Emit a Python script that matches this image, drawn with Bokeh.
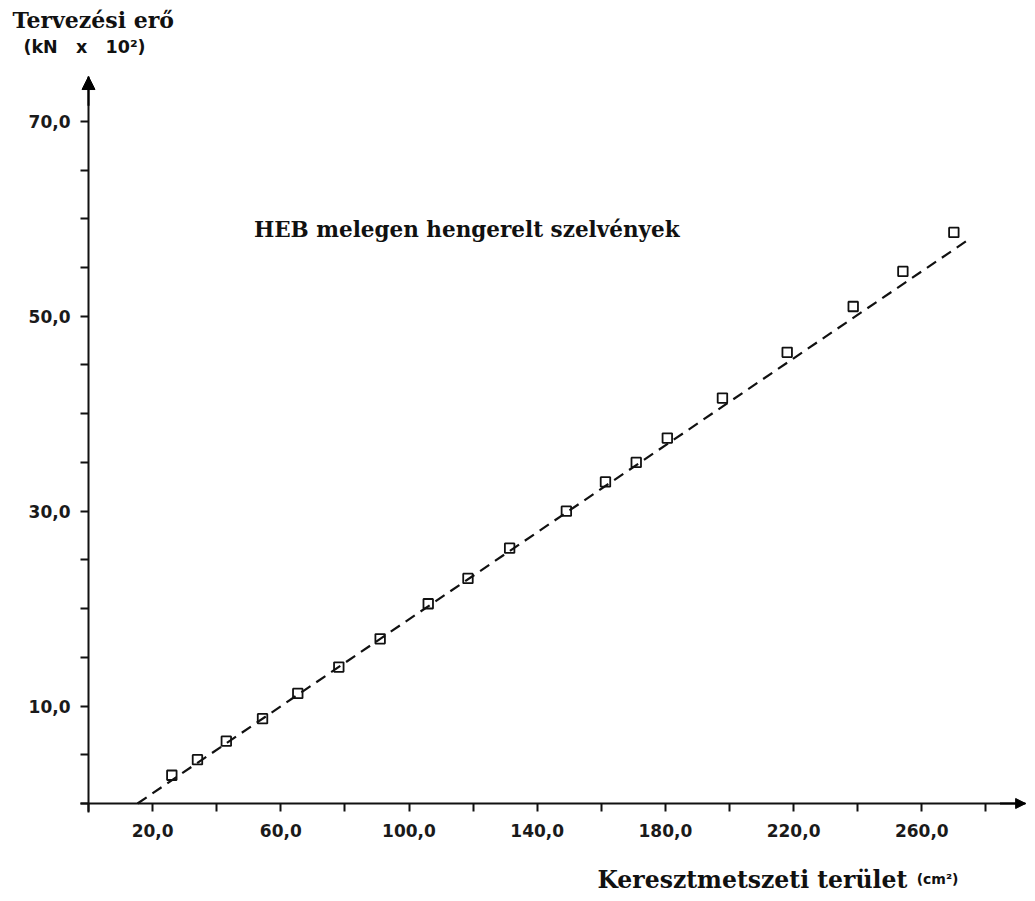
from bokeh.plotting import figure
from bokeh.models import FixedTicker, Label, Arrow, NormalHead, Range1d, LinearAxis
from bokeh.embed import file_html
from bokeh.resources import INLINE

# HEB hot-rolled sections: cross-section area (cm2) and design force (kN x 10^2)
area = [26.0, 34.0, 43.0, 54.3, 65.3, 78.1, 91.0, 106.0, 118.4, 131.4,
        149.1, 161.3, 170.9, 180.6, 197.8, 218.0, 238.6, 254.1, 270.0]
force = [2.9, 4.5, 6.4, 8.7, 11.3, 14.0, 16.9, 20.5, 23.1, 26.2,
         30.0, 33.0, 35.0, 37.5, 41.6, 46.3, 51.0, 54.6, 58.6]

# fitted (dashed) line
fit_x = [15.3, 275.2]
fit_y = [0.0, 58.0]

x_major = [20, 60, 100, 140, 180, 220, 260]
x_minor = [0, 40, 80, 120, 160, 200, 240, 280]
x_labels = ["20,0", "60,0", "100,0", "140,0", "180,0", "220,0", "260,0"]

y_major = [10, 30, 50, 70]
y_minor = [0, 5, 15, 20, 25, 35, 40, 45, 55, 60, 65]
y_labels = ["10,0", "30,0", "50,0", "70,0"]

title_text = "HEB melegen hengerelt szelvények"
y_title = "Tervezési erő"
y_unit = "(kN\u00a0\u00a0 x\u00a0\u00a0 10²)"
x_title = "Keresztmetszeti terület"
x_unit = "(cm²)"

W, H = 1027, 893
X0_PX, Y0_PX = 88, 803          # where the axes cross, in canvas pixels
SX, SY = 3.205, 9.745           # pixels per data unit
X_AXIS_END = 292.4
Y_AXIS_END = 74.6

x_range = Range1d(-X0_PX / SX, (W - X0_PX) / SX)
y_range = Range1d(-(H - Y0_PX) / SY, Y0_PX / SY)

p = figure(width=W, height=H, x_range=x_range, y_range=y_range,
           x_axis_type=None, y_axis_type=None,
           output_backend="svg", toolbar_location=None, min_border=0)
p.outline_line_color = None
p.background_fill_color = "white"
p.border_fill_color = "white"

xaxis = LinearAxis(fixed_location=0, bounds=(-2.5, X_AXIS_END),
                   ticker=FixedTicker(ticks=x_major, minor_ticks=x_minor),
                   major_label_overrides=dict(zip(x_major, x_labels)),
                   major_label_standoff=12)
yaxis = LinearAxis(fixed_location=0, bounds=(-0.9, Y_AXIS_END),
                   ticker=FixedTicker(ticks=y_major, minor_ticks=y_minor),
                   major_label_overrides=dict(zip(y_major, y_labels)),
                   major_label_standoff=10)

for ax in (xaxis, yaxis):
    ax.axis_line_width = 2
    ax.axis_line_color = "#111111"
    ax.major_tick_line_width = 2
    ax.minor_tick_line_width = 2
    ax.major_tick_line_color = "#111111"
    ax.minor_tick_line_color = "#111111"
    ax.major_tick_in = 0
    ax.major_tick_out = 8
    ax.minor_tick_in = 0
    ax.minor_tick_out = 8
    ax.major_label_text_font = "DejaVu Sans"
    ax.major_label_text_font_style = "bold"
    ax.major_label_text_font_size = "17px"
    ax.major_label_text_color = "#1a1a1a"

p.add_layout(xaxis, "below")
p.add_layout(yaxis, "left")

# axis arrow heads
p.add_layout(Arrow(end=NormalHead(size=13, fill_color="black", line_color="black", line_width=1),
                   x_start=0, y_start=Y_AXIS_END - 3, x_end=0, y_end=Y_AXIS_END,
                   line_width=2, line_color="black"))
p.add_layout(Arrow(end=NormalHead(size=10, fill_color="black", line_color="black", line_width=1),
                   x_start=X_AXIS_END - 8, y_start=0, x_end=X_AXIS_END, y_end=0,
                   line_width=2, line_color="black"))

p.line(fit_x, fit_y, line_dash="11 7", line_width=2.2, color="#111111")
p.scatter(area, force, marker="square", size=9.5, fill_color=None,
          line_color="#111111", line_width=1.8)

p.add_layout(Label(x=51.6, y=58.86, text=title_text, text_font="DejaVu Serif",
                   text_font_style="bold", text_font_size="21.5px", text_color="#111111",
                   text_baseline="alphabetic"))
p.add_layout(Label(x=-23.7, y=80.4, text=y_title, text_font="DejaVu Serif",
                   text_font_style="bold", text_font_size="22px", text_color="#111111",
                   text_baseline="alphabetic"))
p.add_layout(Label(x=-20.3, y=77.6, text=y_unit, text_font="DejaVu Sans",
                   text_font_style="bold", text_font_size="17.5px", text_color="#111111",
                   text_baseline="alphabetic"))
p.add_layout(Label(x=158.8, y=-7.8, text=x_title, text_font="DejaVu Serif",
                   text_font_style="bold", text_font_size="23.5px", text_color="#111111",
                   text_baseline="alphabetic"))
p.add_layout(Label(x=258.4, y=-7.7, text=x_unit, text_font="DejaVu Sans",
                   text_font_style="bold", text_font_size="14px", text_color="#111111",
                   text_baseline="alphabetic"))

open("out.html", "w").write(file_html(p, INLINE))
